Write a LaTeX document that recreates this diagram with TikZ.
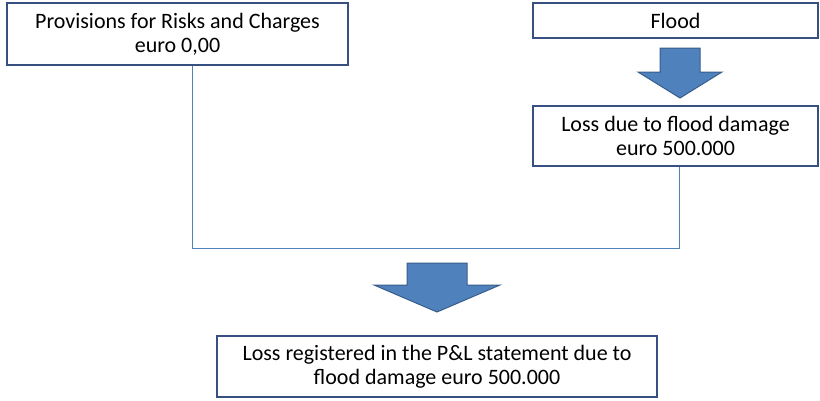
\documentclass[tikz,border=0pt]{standalone}
\usepackage{fontspec}
\setmainfont{Carlito}
\definecolor{boxline}{RGB}{56,79,130}
\definecolor{joinline}{RGB}{79,129,189}
\definecolor{arrowfill}{RGB}{79,129,189}
\definecolor{arrowline}{RGB}{56,93,138}

\tikzset{every picture/.style={line width=0.75pt}}
\tikzset{
  textbox/.style={draw=boxline, line width=0.9pt, fill=white, align=center, inner sep=0pt, font=\fontsize{16.5}{18}\selectfont},
  joiner/.style={draw=joinline, line width=0.75pt},
  blockarrow/.style={fill=arrowfill, draw=arrowline, line width=0.75pt, line join=miter}
}

\begin{document}
\begin{tikzpicture}[x=0.75pt,y=0.75pt,yscale=-1,xscale=1]
\useasboundingbox (0,0) rectangle (820,400);

% Text Node
\node [textbox, minimum width=341*0.75pt, minimum height=62*0.75pt] (prov) at (177.5,34) {Provisions for Risks and Charges\\euro 0,00};
% Text Node
\node [textbox, minimum width=285*0.75pt, minimum height=35*0.75pt] (flood) at (675.5,20.5) {Flood};
% Text Node
\node [textbox, minimum width=285*0.75pt, minimum height=60*0.75pt] (loss) at (675.5,136) {Loss due to flood damage\\euro 500.000};
% Text Node
\node [textbox, minimum width=440*0.75pt, minimum height=61*0.75pt] (pl) at (437,366.5) {Loss registered in the P\&L statement due to\\flood damage euro 500.000};

%Straight Lines
\coordinate (cornerA) at (192,248);
\coordinate (cornerB) at (679,248);
\draw [joiner] (prov.south -| cornerA) -- (cornerA) -- (cornerB) -- (loss.south -| cornerB) ;

%Down Arrow
\draw [blockarrow] (660,48) -- (700,48) -- (700,72) -- (722,72) -- (680,98) -- (638,72) -- (660,72) -- cycle ;
%Down Arrow
\draw [blockarrow] (407,263) -- (467,263) -- (467,285) -- (500,285) -- (437,312) -- (374,285) -- (407,285) -- cycle ;

\end{tikzpicture}
\end{document}
